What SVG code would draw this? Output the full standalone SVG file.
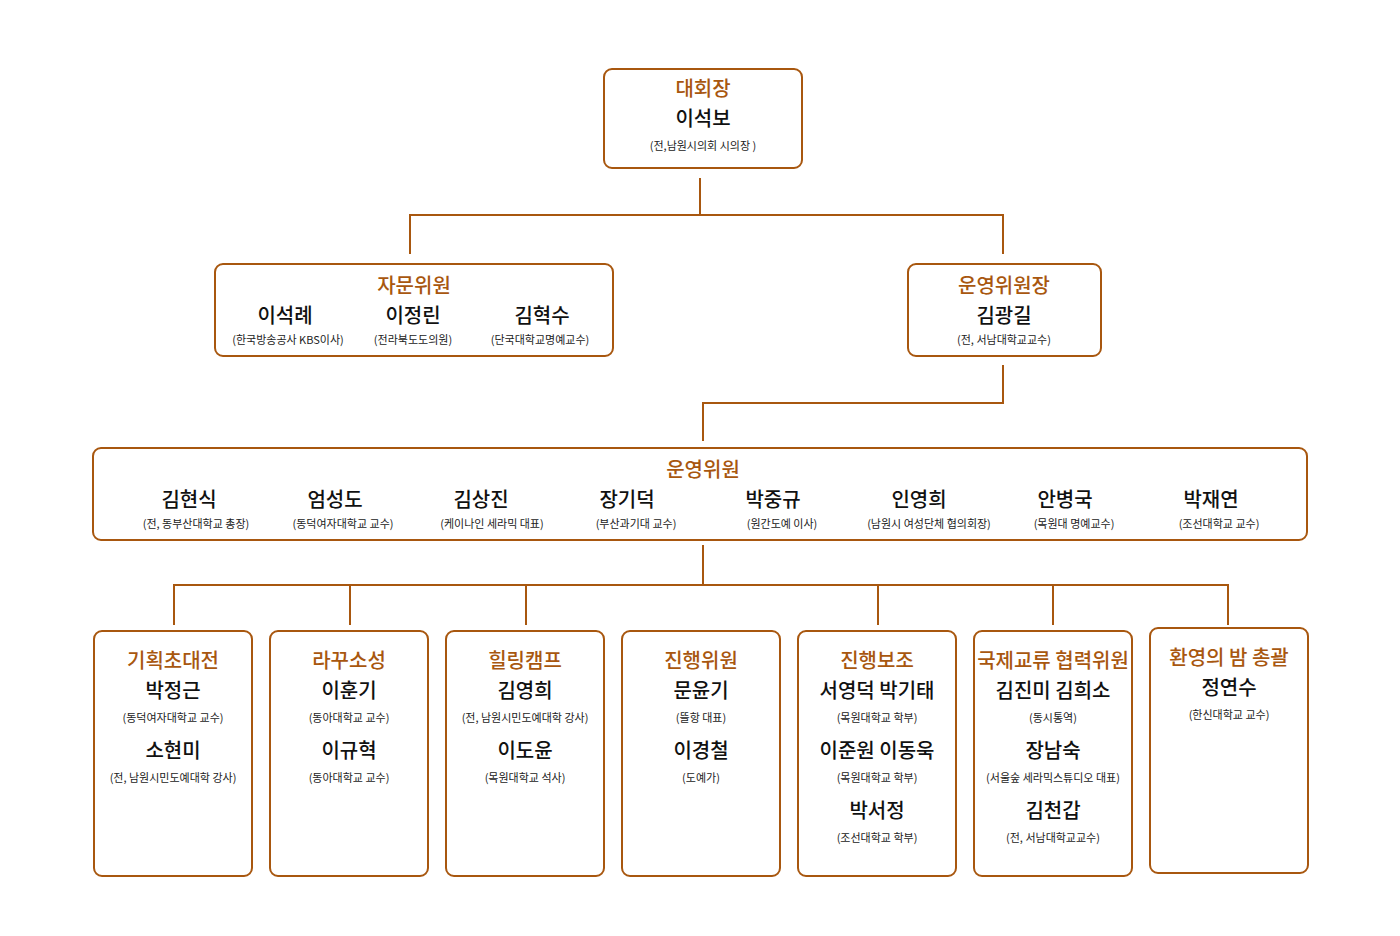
<svg xmlns="http://www.w3.org/2000/svg" width="1400" height="936" viewBox="0 0 1400 936">
<style>
rect{fill:#fff;stroke:#A8570F;stroke-width:2}
text{font-family:"Noto Sans CJK KR","Noto Sans",sans-serif;text-anchor:middle}
.t{fill:#A8570F;font-size:20px;font-weight:500}
.n{fill:#111;font-size:20px;font-weight:500}
.s{fill:#222;font-size:11px}
#c path{fill:none;stroke:#A8570F;stroke-width:2}
</style>
<rect x="0" y="0" width="1400" height="936" style="stroke:none"/>
<g id="c">
<path d="M700 178V215M410 254V215H1003V254"/>
<path d="M1003 365V403H703V441"/>
<path d="M703 545V585M174 625V585H1228V625M350 585V625M526 585V625M878 585V625M1053 585V625"/>
</g>
<g id="n1"><rect x="604" y="69" width="198" height="99" rx="8"/>
<text class="t" x="703" y="96">대회장</text><text class="n" x="703" y="126">이석보</text><text class="s" x="703" y="150">(전,남원시의회 시의장 )</text></g>
<g id="n2"><rect x="215" y="264" width="398" height="92" rx="8"/>
<text class="t" x="414" y="293">자문위원</text>
<text class="n" x="285" y="323">이석례</text><text class="s" x="288" y="344">(한국방송공사 KBS이사)</text>
<text class="n" x="413" y="323">이정린</text><text class="s" x="413" y="344">(전라북도도의원)</text>
<text class="n" x="542" y="323">김혁수</text><text class="s" x="540" y="344">(단국대학교명예교수)</text></g>
<g id="n3"><rect x="908" y="264" width="193" height="92" rx="8"/>
<text class="t" x="1004" y="293">운영위원장</text><text class="n" x="1004" y="323">김광길</text><text class="s" x="1004" y="344">(전, 서남대학교교수)</text></g>
<g id="n4"><rect x="93" y="448" width="1214" height="92" rx="8"/>
<text class="t" x="703" y="477">운영위원</text>
<text class="n" x="189" y="507">김현식</text><text class="s" x="196" y="528">(전, 동부산대학교 총장)</text>
<text class="n" x="335" y="507">엄성도</text><text class="s" x="343" y="528">(동덕여자대학교 교수)</text>
<text class="n" x="481" y="507">김상진</text><text class="s" x="492" y="528">(케이나인 세라믹 대표)</text>
<text class="n" x="627" y="507">장기덕</text><text class="s" x="636" y="528">(부산과기대 교수)</text>
<text class="n" x="773" y="507">박중규</text><text class="s" x="782" y="528">(원간도예 이사)</text>
<text class="n" x="919" y="507">인영희</text><text class="s" x="929" y="528">(남원시 여성단체 협의회장)</text>
<text class="n" x="1065" y="507">안병국</text><text class="s" x="1074" y="528">(목원대 명예교수)</text>
<text class="n" x="1211" y="507">박재연</text><text class="s" x="1219" y="528">(조선대학교 교수)</text></g>
<g id="b1"><rect x="94" y="631" width="158" height="245" rx="8"/>
<text class="t" x="173" y="668">기획초대전</text><text class="n" x="173" y="698">박정근</text><text class="s" x="173" y="722">(동덕여자대학교 교수)</text>
<text class="n" x="173" y="758">소현미</text><text class="s" x="173" y="782">(전, 남원시민도예대학 강사)</text></g>
<g id="b2"><rect x="270" y="631" width="158" height="245" rx="8"/>
<text class="t" x="349" y="668">라꾸소성</text><text class="n" x="349" y="698">이훈기</text><text class="s" x="349" y="722">(동아대학교 교수)</text>
<text class="n" x="349" y="758">이규혁</text><text class="s" x="349" y="782">(동아대학교 교수)</text></g>
<g id="b3"><rect x="446" y="631" width="158" height="245" rx="8"/>
<text class="t" x="525" y="668">힐링캠프</text><text class="n" x="525" y="698">김영희</text><text class="s" x="525" y="722">(전, 남원시민도예대학 강사)</text>
<text class="n" x="525" y="758">이도윤</text><text class="s" x="525" y="782">(목원대학교 석사)</text></g>
<g id="b4"><rect x="622" y="631" width="158" height="245" rx="8"/>
<text class="t" x="701" y="668">진행위원</text><text class="n" x="701" y="698">문윤기</text><text class="s" x="701" y="722">(뜰항 대표)</text>
<text class="n" x="701" y="758">이경철</text><text class="s" x="701" y="782">(도예가)</text></g>
<g id="b5"><rect x="798" y="631" width="158" height="245" rx="8"/>
<text class="t" x="877" y="668">진행보조</text><text class="n" x="877" y="698">서영덕  박기태</text><text class="s" x="877" y="722">(목원대학교 학부)</text>
<text class="n" x="877" y="758">이준원  이동욱</text><text class="s" x="877" y="782">(목원대학교 학부)</text>
<text class="n" x="877" y="818">박서정</text><text class="s" x="877" y="842">(조선대학교 학부)</text></g>
<g id="b6"><rect x="974" y="631" width="158" height="245" rx="8"/>
<text class="t" x="1053" y="668">국제교류 협력위원</text><text class="n" x="1053" y="698">김진미  김희소</text><text class="s" x="1053" y="722">(동시통역)</text>
<text class="n" x="1053" y="758">장남숙</text><text class="s" x="1053" y="782">(서울숲 세라믹스튜디오 대표)</text>
<text class="n" x="1053" y="818">김천갑</text><text class="s" x="1053" y="842">(전, 서남대학교교수)</text></g>
<g id="b7"><rect x="1150" y="628" width="158" height="245" rx="8"/>
<text class="t" x="1229" y="665">환영의 밤 총괄</text><text class="n" x="1229" y="695">정연수</text><text class="s" x="1229" y="719">(한신대학교 교수)</text></g>
</svg>
